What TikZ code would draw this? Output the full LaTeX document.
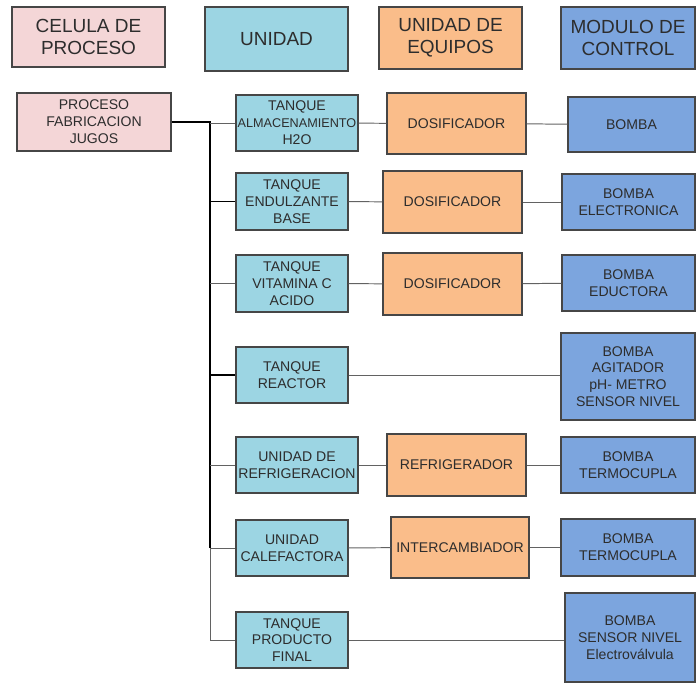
\documentclass[tikz,border=0pt]{standalone}
\usepackage{fontspec}
\setmainfont{Liberation Sans}
\usetikzlibrary{positioning,calc}
\definecolor{celpink}{RGB}{244,214,215}
\definecolor{unitcyan}{RGB}{156,213,227}
\definecolor{equiporange}{RGB}{250,189,138}
\definecolor{ctrlblue}{RGB}{124,165,222}
\definecolor{edgegray}{RGB}{70,70,70}
\definecolor{inkgray}{RGB}{45,45,45}
\tikzset{
    basebox/.style={draw=edgegray, line width=0.8pt, align=center, inner sep=0pt,
        text=inkgray, font=\fontsize{10}{12}\selectfont},
    headbox/.style={basebox, font=\fontsize{13.5}{16}\selectfont},
    celbox/.style={basebox, fill=celpink},
    unitbox/.style={basebox, fill=unitcyan},
    equipbox/.style={basebox, fill=equiporange},
    ctrlbox/.style={basebox, fill=ctrlblue},
    linkline/.style={draw=edgegray!85, line width=0.7pt},
    darklink/.style={draw=black, line width=1.1pt},
    trunkline/.style={draw=black, line width=1.3pt}
}

\begin{document}
\begin{tikzpicture}[x=0.025cm, y=-0.025cm]
\useasboundingbox (0,0) rectangle (696,683);
% encabezados
\node[headbox, fill=celpink, minimum width=3.825cm, minimum height=1.5cm] (hcel) at (88.5,37) {CELULA DE\\PROCESO};
\node[headbox, fill=unitcyan, minimum width=3.575cm, minimum height=1.6cm] (hunid) at (276.5,39) {UNIDAD};
\node[headbox, fill=equiporange, minimum width=3.575cm, minimum height=1.55cm] (hequip) at (450.5,38) {UNIDAD DE\\EQUIPOS};
\node[headbox, fill=ctrlblue, minimum width=3.35cm, minimum height=1.55cm] (hctrl) at (628,38) {MODULO DE\\CONTROL};

% celula de proceso
\node[celbox, minimum width=3.85cm, minimum height=1.45cm] (proc) at (94,122) {PROCESO\\FABRICACION\\JUGOS};

% unidades
\node[unitbox, minimum width=3.05cm, minimum height=1.4cm] (almac) at (297,123) {TANQUE\\{\fontsize{9}{12}\selectfont ALMACENAMIENTO}\\H2O};
\node[unitbox, minimum width=2.8cm, minimum height=1.425cm] (endulz) at (292,201.5) {TANQUE\\ENDULZANTE\\BASE};
\node[unitbox, minimum width=2.8cm, minimum height=1.425cm] (vitam) at (292,283.5) {TANQUE\\VITAMINA C\\ACIDO};
\node[unitbox, minimum width=2.8cm, minimum height=1.4cm] (reactor) at (292,375) {TANQUE\\REACTOR};
\node[unitbox, minimum width=3.05cm, minimum height=1.4cm] (refrig) at (297,465) {UNIDAD DE\\REFRIGERACION};
\node[unitbox, minimum width=2.8cm, minimum height=1.4cm] (calef) at (292,548) {UNIDAD\\CALEFACTORA};
\node[unitbox, minimum width=2.8cm, minimum height=1.4cm] (final) at (292,640) {TANQUE\\PRODUCTO\\FINAL};

% equipos
\node[equipbox, minimum width=3.475cm, minimum height=1.525cm] (dosif1) at (456.5,123.5) {DOSIFICADOR};
\node[equipbox, minimum width=3.475cm, minimum height=1.55cm] (dosif2) at (452.5,202) {DOSIFICADOR};
\node[equipbox, minimum width=3.475cm, minimum height=1.55cm] (dosif3) at (452.5,284) {DOSIFICADOR};
\node[equipbox, minimum width=3.475cm, minimum height=1.55cm] (refrigr) at (456.5,465) {REFRIGERADOR};
\node[equipbox, minimum width=3.45cm, minimum height=1.525cm] (interc) at (460,547.5) {INTERCAMBIADOR};

% modulos de control
\node[ctrlbox, minimum width=3.175cm, minimum height=1.375cm] (bomba1) at (631.5,124.5) {BOMBA};
\node[ctrlbox, minimum width=3.325cm, minimum height=1.4cm] (bomba2) at (628.5,202) {BOMBA\\ELECTRONICA};
\node[ctrlbox, minimum width=3.325cm, minimum height=1.4cm] (bomba3) at (628.5,283) {BOMBA\\EDUCTORA};
\node[ctrlbox, minimum width=3.35cm, minimum height=2.175cm] (bomba4) at (628,376.5) {BOMBA\\AGITADOR\\pH- METRO\\SENSOR NIVEL};
\node[ctrlbox, minimum width=3.35cm, minimum height=1.4cm] (bomba5) at (628,465) {BOMBA\\TERMOCUPLA};
\node[ctrlbox, minimum width=3.35cm, minimum height=1.425cm] (bomba6) at (628,547.5) {BOMBA\\TERMOCUPLA};
\node[ctrlbox, minimum width=3.25cm, minimum height=2.225cm] (bomba7) at (630,637.5) {BOMBA\\SENSOR NIVEL\\Electroválvula};

% tronco
\coordinate (top) at (210,122);
\coordinate (bottom) at (210,640);
\draw[trunkline] (proc.east) -- (top) -- (bottom |- calef.west);
\draw[linkline] (bottom |- calef.west) -- (bottom) -- (final.west);
\foreach \u in {almac,vitam,refrig,calef}
    \draw[linkline] (top |- \u.west) -- (\u.west);
\foreach \u in {endulz,reactor}
    \draw[darklink] (top |- \u.west) -- (\u.west);

% conexiones
\draw[linkline] (almac) -- (dosif1);
\draw[linkline] (dosif1) -- (bomba1);
\draw[linkline] (endulz) -- (dosif2);
\draw[linkline] (dosif2) -- (bomba2);
\draw[linkline] (vitam) -- (dosif3);
\draw[linkline] (dosif3) -- (bomba3);
\draw[linkline] (reactor.east) -- (reactor.east -| bomba4.west);
\draw[linkline] (refrig) -- (refrigr);
\draw[linkline] (refrigr) -- (bomba5);
\draw[linkline] (calef) -- (interc);
\draw[linkline] (interc) -- (bomba6);
\draw[linkline] (final.east) -- (final.east -| bomba7.west);
\end{tikzpicture}
\end{document}
